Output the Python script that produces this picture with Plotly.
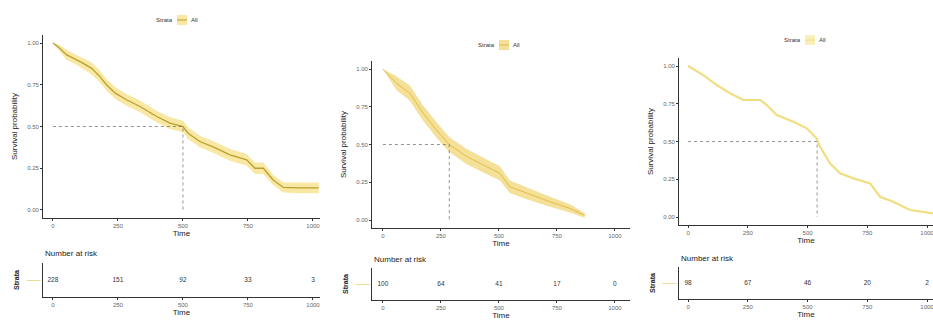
import plotly.graph_objects as go

# ---------------- data ----------------
break_times = [0, 250, 500, 750, 1000]
y_ticks = [0.0, 0.25, 0.5, 0.75, 1.0]

p1_time = [0, 25, 52, 90, 117, 149, 180, 206, 240, 283, 335, 399, 450, 500, 520, 565, 620, 681, 745, 777, 809, 847, 886, 950, 1022]
p1_surv = [1.0, 0.97, 0.93, 0.90, 0.878, 0.848, 0.80, 0.75, 0.70, 0.66, 0.62, 0.56, 0.52, 0.50, 0.46, 0.41, 0.375, 0.33, 0.30, 0.25, 0.25, 0.18, 0.135, 0.132, 0.132]
p1_lower = [1.0, 0.95, 0.90, 0.87, 0.845, 0.812, 0.765, 0.715, 0.665, 0.625, 0.585, 0.525, 0.485, 0.465, 0.425, 0.375, 0.34, 0.295, 0.265, 0.215, 0.215, 0.15, 0.105, 0.10, 0.10]
p1_upper = [1.0, 0.99, 0.96, 0.93, 0.91, 0.884, 0.835, 0.785, 0.735, 0.695, 0.655, 0.595, 0.555, 0.535, 0.495, 0.445, 0.41, 0.365, 0.335, 0.285, 0.285, 0.21, 0.165, 0.165, 0.165]
p1_risk = [228, 151, 92, 33, 3]
p1_median = 500

p2_time = [0, 59, 116, 174, 231, 286, 361, 433, 504, 547, 619, 720, 806, 870]
p2_surv = [1.0, 0.905, 0.839, 0.706, 0.596, 0.50, 0.42, 0.364, 0.309, 0.22, 0.177, 0.121, 0.077, 0.03]
p2_lower = [1.0, 0.86, 0.79, 0.655, 0.545, 0.45, 0.37, 0.315, 0.262, 0.178, 0.138, 0.088, 0.05, 0.015]
p2_upper = [1.0, 0.95, 0.89, 0.757, 0.648, 0.55, 0.47, 0.413, 0.356, 0.262, 0.216, 0.154, 0.104, 0.045]
p2_risk = [100, 64, 41, 17, 0]
p2_median = 286

p3_time = [0, 64, 120, 176, 231, 301, 329, 371, 441, 497, 538, 552, 594, 636, 692, 762, 803, 859, 929, 1025]
p3_surv = [1.0, 0.94, 0.874, 0.819, 0.775, 0.775, 0.742, 0.675, 0.631, 0.587, 0.521, 0.466, 0.356, 0.289, 0.256, 0.223, 0.134, 0.101, 0.046, 0.024]
p3_risk = [98, 67, 46, 20, 2]
p3_median = 540

strata_name = "All"

# ---------------- layout helpers ----------------
W, H = 933, 321


def px_x(a, b):
    return [a / W, b / W]


def px_y(top, bottom):
    return [1 - bottom / H, 1 - top / H]


panels = [
    dict(time=p1_time, surv=p1_surv, lower=p1_lower, upper=p1_upper, risk=p1_risk, median=p1_median,
         xd=px_x(43, 320), xr=[-38, 1027], yd=px_y(35, 218), yr=[-0.048, 1.048], ryd=px_y(263, 297),
         line="#B8A030", band="rgba(242,205,50,0.45)", lw=1.3,
         legend_xy=(182, 20), nar_y=253),
    dict(time=p2_time, surv=p2_surv, lower=p2_lower, upper=p2_upper, risk=p2_risk, median=p2_median,
         xd=px_x(372, 630), xr=[-47, 1065], yd=px_y(61, 228), yr=[-0.053, 1.053], ryd=px_y(268, 300),
         line="#E2BE45", band="rgba(235,198,70,0.55)", lw=1.0,
         legend_xy=(504, 45), nar_y=259),
    dict(time=p3_time, surv=p3_surv, lower=None, upper=None, risk=p3_risk, median=p3_median,
         xd=px_x(679, 933), xr=[-38, 1025], yd=px_y(58, 225), yr=[-0.053, 1.053], ryd=px_y(267, 299),
         line="#F1DE80", band=None, lw=2.2,
         legend_xy=(810, 40), nar_y=258),
]

fig = go.Figure()
tick_font = dict(family="Liberation Sans", size=6, color="#666666")
title_font = dict(family="Liberation Sans", size=8, color="#222222")
axis_common = dict(showline=True, linecolor="#333333", linewidth=0.8, ticks="outside",
                   ticklen=2, tickcolor="#333333", showgrid=False, zeroline=False,
                   tickfont=tick_font, ticklabeloverflow="allow")

layout_updates = {}
annotations = []
shapes = []
for i, p in enumerate(panels):
    mi = 2 * i + 1
    ri = 2 * i + 2
    mx = "x" if mi == 1 else f"x{mi}"
    my = "y" if mi == 1 else f"y{mi}"
    rx, ry = f"x{ri}", f"y{ri}"

    # confidence band
    if p["lower"] is not None:
        fig.add_trace(go.Scatter(x=p["time"], y=p["upper"], mode="lines", line=dict(width=0, color=p["band"]),
                                 xaxis=mx, yaxis=my, showlegend=False, hoverinfo="skip"))
        fig.add_trace(go.Scatter(x=p["time"], y=p["lower"], mode="lines", line=dict(width=0, color=p["band"]),
                                 fill="tonexty", fillcolor=p["band"], xaxis=mx, yaxis=my,
                                 showlegend=False, hoverinfo="skip"))
    # survival curve
    fig.add_trace(go.Scatter(x=p["time"], y=p["surv"], mode="lines", name=strata_name,
                             line=dict(color=p["line"], width=p["lw"]), xaxis=mx, yaxis=my,
                             showlegend=False))
    # median lines
    fig.add_trace(go.Scatter(x=[0, p["median"], p["median"]], y=[0.5, 0.5, 0], mode="lines",
                             line=dict(color="#666666", width=0.7, dash="dot"),
                             xaxis=mx, yaxis=my, showlegend=False, hoverinfo="skip"))
    # risk table
    fig.add_trace(go.Scatter(x=break_times, y=[strata_name] * len(break_times), text=[str(v) for v in p["risk"]],
                             mode="text", textfont=dict(family="Liberation Sans", size=6.5, color="#333333"),
                             xaxis=rx, yaxis=ry, showlegend=False))

    xkey_m = "xaxis" if mi == 1 else f"xaxis{mi}"
    ykey_m = "yaxis" if mi == 1 else f"yaxis{mi}"
    layout_updates[xkey_m] = dict(axis_common, domain=p["xd"], range=p["xr"], anchor=my,
                                  tickvals=break_times, title=dict(text="Time", font=title_font, standoff=2))
    layout_updates[ykey_m] = dict(axis_common, domain=p["yd"], range=p["yr"], anchor=mx,
                                  tickvals=y_ticks, tickformat=".2f",
                                  title=dict(text="Survival probability", font=title_font, standoff=8))
    layout_updates[f"xaxis{ri}"] = dict(axis_common, domain=p["xd"], range=p["xr"], anchor=ry,
                                        tickvals=break_times,
                                        title=dict(text="Time", font=title_font, standoff=2))
    layout_updates[f"yaxis{ri}"] = dict(axis_common, domain=p["ryd"], anchor=rx, type="category",
                                        tickvals=[strata_name], ticktext=["\u2014\u2014"], ticks="",
                                        tickfont=dict(family="Liberation Sans", size=7, color="#D9C24A"),
                                        title=dict(text="<b>Strata</b>", font=dict(family="Liberation Sans", size=7, color="#222222"), standoff=6))

    # legend drawn manually: "Strata" [key] "All"
    lx, ly = p["legend_xy"]
    annotations.append(dict(text="Strata", x=(lx - 7) / W, y=1 - ly / H, xref="paper", yref="paper",
                            xanchor="right", yanchor="middle", showarrow=False,
                            font=dict(family="Liberation Sans", size=6, color="#333333")))
    annotations.append(dict(text=strata_name, x=(lx + 7) / W, y=1 - ly / H, xref="paper", yref="paper",
                            xanchor="left", yanchor="middle", showarrow=False,
                            font=dict(family="Liberation Sans", size=6, color="#333333")))
    key_fill = p["band"] if p["band"] else "rgba(245,228,140,0.6)"
    shapes.append(dict(type="rect", xref="paper", yref="paper",
                       x0=(lx - 5) / W, x1=(lx + 5) / W, y0=1 - (ly + 5) / H, y1=1 - (ly - 5) / H,
                       fillcolor=key_fill, line=dict(width=0), layer="below"))
    shapes.append(dict(type="line", xref="paper", yref="paper",
                       x0=(lx - 5) / W, x1=(lx + 5) / W, y0=1 - ly / H, y1=1 - ly / H,
                       line=dict(color=p["line"], width=1)))
    annotations.append(dict(text="Number at risk", x=p["xd"][0], y=1 - p["nar_y"] / H, xref="paper", yref="paper",
                            xanchor="left", yanchor="middle", showarrow=False,
                            font=dict(family="Liberation Sans", size=8, color="#222222")))

fig.update_layout(width=W, height=H, margin=dict(l=0, r=0, t=0, b=0),
                  plot_bgcolor="white", paper_bgcolor="white", showlegend=False,
                  annotations=annotations, shapes=shapes, **layout_updates)

fig.write_html("out.html")
